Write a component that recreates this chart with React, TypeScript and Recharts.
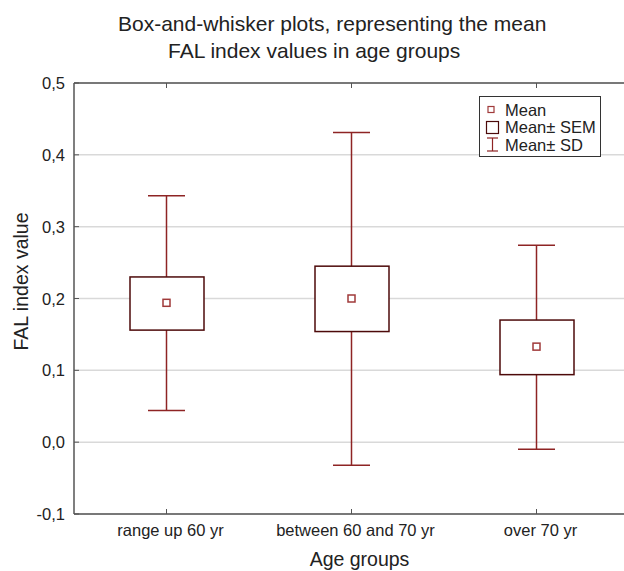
import React from 'react';
import {
  ComposedChart,
  Bar,
  Line,
  XAxis,
  YAxis,
  CartesianGrid,
  Legend,
} from 'recharts';

const FONT = '"Liberation Sans", Arial, Helvetica, sans-serif';
const TEXT = '#222';
const AXIS = '#555';
const WHISKER = '#8e2424';
const BOX = '#4d0a0a';
const MEAN = '#a03a3a';

// values
const categories = ['range up 60 yr', 'between 60 and 70 yr', 'over 70 yr'];
const means = [0.194, 0.2, 0.133];
const semLow = [0.156, 0.154, 0.094];
const semHigh = [0.23, 0.245, 0.17];
const sdLow = [0.044, -0.032, -0.01];
const sdHigh = [0.343, 0.431, 0.274];

const yTicks = [-0.1, 0, 0.1, 0.2, 0.3, 0.4, 0.5];
const yTickLabels = ['-0,1', '0,0', '0,1', '0,2', '0,3', '0,4', '0,5'];

const titleLines = ['Box-and-whisker plots, representing the mean', 'FAL index values in age groups'];
const legendItems = ['Mean', 'Mean\u00b1 SEM', 'Mean\u00b1 SD'];

const data = categories.map((name, i) => ({
  name,
  mean: means[i],
  sem: [semLow[i], semHigh[i]],
  sd: [sdLow[i], sdHigh[i]],
}));

const textStyle = { fontFamily: FONT };

// whisker: vertical line with caps, drawn from the sd range bar
const Whisker = (props: any) => {
  const { x, y, width, height } = props;
  if (x == null || y == null) return null;
  const top = Math.min(y, y + height);
  const bottom = Math.max(y, y + height);
  const cx = x + width / 2;
  return (
    <g stroke={WHISKER} strokeWidth={1.5}>
      <line x1={cx} x2={cx} y1={top} y2={bottom} />
      <line x1={x} x2={x + width} y1={top} y2={top} />
      <line x1={x} x2={x + width} y1={bottom} y2={bottom} />
    </g>
  );
};

const SemBox = (props: any) => {
  const { x, y, width, height } = props;
  if (x == null || y == null) return null;
  const top = Math.min(y, y + height);
  return (
    <rect x={x} y={top} width={width} height={Math.abs(height)} fill="#fff" stroke={BOX} strokeWidth={1.5} />
  );
};

const MeanDot = (props: any) => {
  const { cx, cy, index } = props;
  if (cx == null || cy == null) return <g key={index} />;
  return <rect key={index} x={cx - 3.5} y={cy - 3.5} width={7} height={7} fill="#fff" stroke={MEAN} strokeWidth={1.5} />;
};

const CategoryTick = (props: any) => {
  const { x, y, payload } = props;
  return (
    <g>
      <line x1={x} x2={x} y1={y} y2={y - 5} stroke={AXIS} strokeWidth={1} />
      <text x={x + 4} y={y + 22} textAnchor="middle" fontSize={16.5} fill={TEXT} style={textStyle}>
        {payload.value}
      </text>
    </g>
  );
};

const TopTick = (props: any) => {
  const { x, y } = props;
  return <line x1={x} x2={x} y1={y} y2={y + 5} stroke={AXIS} strokeWidth={1} />;
};

const ValueTick = (props: any) => {
  const { x, y, payload } = props;
  const i = yTicks.findIndex((t) => Math.abs(t - payload.value) < 1e-6);
  return (
    <g>
      <line x1={x} x2={x + 5} y1={y} y2={y} stroke={AXIS} strokeWidth={1} />
      <text x={x - 9} y={y + 6} textAnchor="end" fontSize={16.5} fill={TEXT} style={textStyle}>
        {i >= 0 ? yTickLabels[i] : ''}
      </text>
    </g>
  );
};

const LegendBox = () => (
  <div style={{ width: 122, height: 61, border: '1px solid #333', background: '#fff', boxSizing: 'border-box' }}>
    <svg width={122} height={61}>
      <rect x={8} y={9.5} width={6} height={6} fill="#fff" stroke={MEAN} strokeWidth={1.2} />
      <rect x={6.5} y={24.5} width={12} height={12} fill="#fff" stroke={BOX} strokeWidth={1.2} />
      <g stroke={WHISKER} strokeWidth={1.2}>
        <line x1={12.5} x2={12.5} y1={41} y2={54} />
        <line x1={7} x2={18} y1={41} y2={41} />
        <line x1={7} x2={18} y1={54} y2={54} />
      </g>
      {legendItems.map((t, i) => (
        <text key={t} x={25} y={18.5 + i * 17.5} fontSize={16.5} fill={TEXT} style={textStyle}>
          {t}
        </text>
      ))}
    </svg>
  </div>
);

const XTitle = (p: any) => {
  const vb = p.viewBox || {};
  return (
    <text x={vb.x + vb.width / 2 + 8} y={vb.y + 52} textAnchor="middle" fontSize={19.5} fill={TEXT} style={textStyle}>
      Age groups
    </text>
  );
};

const YTitle = (p: any) => {
  const vb = p.viewBox || {};
  const cx = vb.x + vb.width - 53;
  const cy = vb.y + vb.height / 2 - 17;
  return (
    <text
      x={cx}
      y={cy}
      transform={`rotate(-90 ${cx} ${cy})`}
      textAnchor="middle"
      dominantBaseline="central"
      fontSize={19.5}
      fill={TEXT}
      style={textStyle}
    >
      FAL index value
    </text>
  );
};

export default function App() {
  return (
    <div style={{ position: 'absolute', left: 0, top: 0, width: 624, height: 571, overflow: 'hidden', background: '#fff' }}>
      <svg width={624} height={70} style={{ position: 'absolute', left: 0, top: 0 }}>
        <text x={118} y={31} fontSize={21} fill={TEXT} style={textStyle}>
          {titleLines[0]}
        </text>
        <text x={168} y={57.5} fontSize={21} fill={TEXT} style={textStyle}>
          {titleLines[1]}
        </text>
      </svg>
      <ComposedChart
        width={640}
        height={571}
        data={data}
        margin={{ top: 0, right: 11, bottom: 0, left: 0 }}
        style={{ fontFamily: FONT }}
      >
        <CartesianGrid xAxisId="box" vertical={false} stroke="#d9d9d9" strokeWidth={1.5} />
        <XAxis
          xAxisId="box"
          dataKey="name"
          height={57}
          interval={0}
          tickSize={0}
          tickMargin={0}
          tickLine={false}
          tick={<CategoryTick />}
          axisLine={{ stroke: AXIS, strokeWidth: 1.5 }}
          label={<XTitle />}
        />
        <XAxis xAxisId="sd" dataKey="name" hide />
        <XAxis
          xAxisId="top"
          orientation="top"
          dataKey="name"
          height={83}
          interval={0}
          tickSize={0}
          tickMargin={0}
          tickLine={false}
          tick={<TopTick />}
          axisLine={{ stroke: AXIS, strokeWidth: 1.5 }}
        />
        <YAxis
          type="number"
          domain={[-0.1, 0.5]}
          ticks={yTicks}
          interval={0}
          width={74}
          tickSize={0}
          tickMargin={0}
          tickLine={false}
          tick={<ValueTick />}
          axisLine={{ stroke: AXIS, strokeWidth: 1.5 }}
          allowDataOverflow
          label={<YTitle />}
        />
        <Bar xAxisId="sd" dataKey="sd" barSize={37} shape={<Whisker />} isAnimationActive={false} />
        <Bar xAxisId="box" dataKey="sem" barSize={74} shape={<SemBox />} isAnimationActive={false} />
        <Line
          xAxisId="box"
          dataKey="mean"
          stroke="none"
          dot={<MeanDot />}
          activeDot={false}
          isAnimationActive={false}
        />
        <Legend
          layout="horizontal"
          verticalAlign="middle"
          align="center"
          content={<LegendBox />}
          wrapperStyle={{ position: 'absolute', left: 479, top: 96, width: 122, height: 61 }}
        />
      </ComposedChart>
    </div>
  );
}
